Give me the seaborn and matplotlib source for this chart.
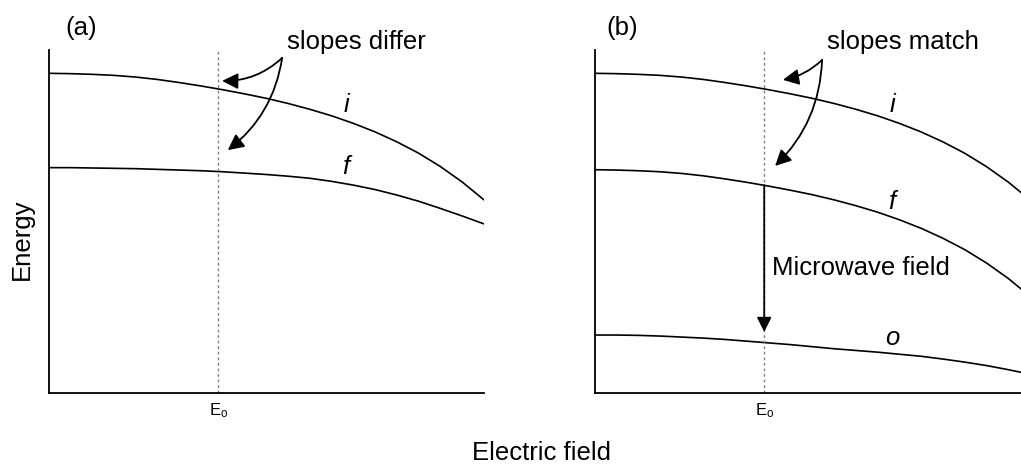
import matplotlib
matplotlib.use('Agg')
import matplotlib.pyplot as plt
import numpy as np
import pandas as pd
import seaborn as sns

# ------------------------------------------
# 데이터 (그림에서 읽은 값, 임의 단위)
# ------------------------------------------
field = [0.00, 0.05, 0.10, 0.15, 0.20, 0.25, 0.30, 0.35, 0.40, 0.45, 0.50,
         0.55, 0.60, 0.65, 0.70, 0.75, 0.80, 0.85, 0.90, 0.95, 1.00]
E0 = 0.389

# (a) slopes differ
a_i = [0.932, 0.931, 0.929, 0.926, 0.921, 0.914, 0.905, 0.895, 0.884, 0.872, 0.859,
       0.844, 0.827, 0.808, 0.786, 0.761, 0.732, 0.699, 0.660, 0.615, 0.563]
a_f = [0.657, 0.657, 0.656, 0.655, 0.654, 0.652, 0.650, 0.648, 0.645, 0.641, 0.637,
       0.632, 0.626, 0.617, 0.606, 0.593, 0.577, 0.559, 0.538, 0.516, 0.493]

# (b) slopes match
b_i = [0.932, 0.931, 0.929, 0.926, 0.921, 0.914, 0.905, 0.895, 0.884, 0.872, 0.859,
       0.844, 0.827, 0.808, 0.786, 0.761, 0.732, 0.699, 0.660, 0.615, 0.563]
b_f = [0.651, 0.650, 0.648, 0.645, 0.640, 0.633, 0.624, 0.614, 0.603, 0.591, 0.578,
       0.563, 0.546, 0.527, 0.505, 0.480, 0.451, 0.418, 0.379, 0.334, 0.282]
b_o = [0.169, 0.169, 0.168, 0.166, 0.163, 0.160, 0.156, 0.151, 0.146, 0.141, 0.135,
       0.129, 0.124, 0.119, 0.113, 0.107, 0.099, 0.090, 0.080, 0.068, 0.055]

mw_start = 0.606   # f 준위 (E0 위치)
mw_end = 0.178     # 화살표 끝 (o 바로 위)

sns.set_theme(style='white')
plt.rcParams['font.family'] = ['Liberation Sans', 'DejaVu Sans']
plt.rcParams['text.color'] = 'black'
plt.rcParams['xtick.color'] = 'black'
plt.rcParams['mathtext.fontset'] = 'custom'
plt.rcParams['mathtext.rm'] = 'Liberation Sans'
plt.rcParams['mathtext.it'] = 'Liberation Sans:italic'

fig = plt.figure(figsize=(10.21, 4.65), dpi=100)
ax_a = fig.add_axes([49 / 1021, 72 / 465, 435 / 1021, 343 / 465])
ax_b = fig.add_axes([595 / 1021, 72 / 465, 435 / 1021, 343 / 465])

FS = 18.5
arrow_kw = dict(arrowstyle='-|>', color='black', lw=1.3, mutation_scale=24,
                shrinkA=0, shrinkB=0)


def style_axes(ax):
    ax.set_xlim(0, 1)
    ax.set_ylim(0, 1)
    for side in ['top', 'right']:
        ax.spines[side].set_visible(False)
    for side in ['left', 'bottom']:
        ax.spines[side].set_color('black')
        ax.spines[side].set_linewidth(1.3)
    ax.set_yticks([])
    ax.set_xticks([E0])
    ax.set_xticklabels([r'E$_\mathrm{o}$'], fontsize=12)
    ax.tick_params(axis='x', length=0, pad=6)
    ax.set_xlabel('')
    ax.set_ylabel('')
    ax.axvline(E0, color='#808080', lw=1, linestyle=(0, (2, 2)))


# ---------------- (a) ----------------
for vals in [a_i, a_f]:
    sns.lineplot(x=field, y=vals, ax=ax_a, color='black', lw=1.2, sort=False)
style_axes(ax_a)
ax_a.text(0.037, 1.064, '(a)', fontsize=FS, va='center', ha='left')
ax_a.text(0.547, 1.023, 'slopes differ', fontsize=FS, va='center', ha='left')
ax_a.annotate('', xy=(0.398, 0.910), xytext=(0.536, 0.977),
              arrowprops=dict(connectionstyle='arc3,rad=-0.2', **arrow_kw))
ax_a.annotate('', xy=(0.411, 0.708), xytext=(0.536, 0.977),
              arrowprops=dict(connectionstyle='arc3,rad=-0.2', **arrow_kw))
ax_a.text(0.683, 0.840, 'i', fontsize=FS, style='italic', ha='center', va='center')
ax_a.text(0.683, 0.659, 'f', fontsize=FS, style='italic', ha='center', va='center')

# ---------------- (b) ----------------
for vals in [b_i, b_f, b_o]:
    sns.lineplot(x=field, y=vals, ax=ax_b, color='black', lw=1.2, sort=False)
style_axes(ax_b)
ax_b.text(0.027, 1.064, '(b)', fontsize=FS, va='center', ha='left')
ax_b.text(0.533, 1.023, 'slopes match', fontsize=FS, va='center', ha='left')
ax_b.annotate('', xy=(0.432, 0.913), xytext=(0.522, 0.971),
              arrowprops=dict(connectionstyle='arc3,rad=-0.15', **arrow_kw))
ax_b.annotate('', xy=(0.414, 0.662), xytext=(0.522, 0.971),
              arrowprops=dict(connectionstyle='arc3,rad=-0.2', **arrow_kw))
ax_b.annotate('', xy=(E0, mw_end), xytext=(E0, mw_start),
              arrowprops=dict(arrowstyle='-|>', color='black', lw=1.3,
                              mutation_scale=22, shrinkA=0, shrinkB=0))
ax_b.text(0.407, 0.364, 'Microwave field', fontsize=FS, ha='left', va='center')
ax_b.text(0.683, 0.840, 'i', fontsize=FS, style='italic', ha='center', va='center')
ax_b.text(0.683, 0.557, 'f', fontsize=FS, style='italic', ha='center', va='center')
ax_b.text(0.683, 0.160, 'o', fontsize=FS, style='italic', ha='center', va='center')

fig.text(22 / 1021, 1 - 239 / 465, 'Energy', fontsize=FS, rotation=90,
         ha='center', va='center')
fig.text(541 / 1021, 1 - 453 / 465, 'Electric field', fontsize=FS,
         ha='center', va='center')

fig.savefig('out.png', dpi=100)
